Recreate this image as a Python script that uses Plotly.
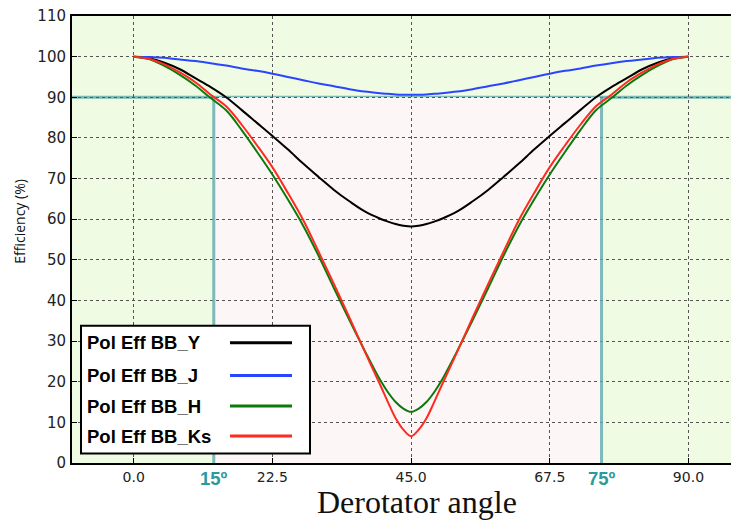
import plotly.graph_objects as go

# ---- data ----
angles = [0, 2.5, 5, 7.5, 10, 12.5, 15, 17.5, 20, 22.5, 25, 27.5, 30, 32.5, 35, 37.5, 40, 41.25, 42.5, 43.75,
          45, 46.25, 47.5, 48.75, 50, 52.5, 55, 57.5, 60, 62.5, 65, 67.5, 70, 72.5, 75, 77.5, 80, 82.5, 85, 87.5, 90]

eff_Y = [100, 99.6, 98.5, 96.9, 94.7, 92.5, 90.0, 86.9, 83.7, 80.5, 77.2, 73.7, 70.4, 67.2, 64.4, 61.9, 60.1, 59.4, 58.8, 58.4,
         58.2, 58.4, 58.8, 59.4, 60.1, 61.9, 64.4, 67.2, 70.4, 73.7, 77.2, 80.5, 83.7, 86.9, 90.0, 92.5, 94.7, 96.9, 98.5, 99.6, 100]
eff_J = [100, 99.9, 99.7, 99.3, 98.9, 98.4, 97.8, 97.1, 96.5, 95.8, 95.0, 94.2, 93.4, 92.7, 92.0, 91.4, 91.0, 90.85, 90.7, 90.62,
         90.6, 90.62, 90.7, 90.85, 91.0, 91.4, 92.0, 92.7, 93.4, 94.2, 95.0, 95.8, 96.5, 97.1, 97.8, 98.4, 98.9, 99.3, 99.7, 99.9, 100]
eff_H = [100, 99.4, 97.7, 95.5, 92.9, 89.8, 86.8, 82.0, 76.6, 71.0, 64.9, 58.4, 51.0, 43.0, 35.2, 27.6, 20.4, 17.4, 15.0, 13.4,
         12.6, 13.4, 15.0, 17.4, 20.4, 27.6, 35.2, 43.0, 51.0, 58.4, 64.9, 71.0, 76.6, 82.0, 86.8, 89.8, 92.9, 95.5, 97.7, 99.4, 100]
eff_Ks = [100, 99.5, 98.1, 96.1, 93.7, 90.6, 87.8, 83.3, 78.2, 72.8, 66.5, 59.8, 52.0, 44.0, 35.8, 27.4, 19.2, 15.0, 11.0, 8.2,
          6.6, 8.2, 11.0, 15.0, 19.2, 27.4, 35.8, 44.0, 52.0, 59.8, 66.5, 72.8, 78.2, 83.3, 87.8, 90.6, 93.7, 96.1, 98.1, 99.5, 100]

series_names = ["Pol Eff BB_Y", "Pol Eff BB_J", "Pol Eff BB_H", "Pol Eff BB_Ks"]
series_values = [eff_Y, eff_J, eff_H, eff_Ks]
series_colors = ["#000000", "#2a45ff", "#0a7a0a", "#ff2a20"]

x_ticks = [0, 22.5, 45, 67.5, 90]
x_tick_labels = ["0.0", "22.5", "45.0", "67.5", "90.0"]
y_ticks = list(range(0, 111, 10))
marker_angles = [13.0, 75.9]
marker_labels = ["15º", "75º"]
threshold = 90

# ---- figure ----
fig = go.Figure()
for name, vals, col in zip(series_names, series_values, series_colors):
    fig.add_trace(go.Scatter(x=angles, y=vals, mode="lines", name=name,
                             line=dict(color=col, width=2, shape="spline", smoothing=1.0),
                             showlegend=False))

# page has an 8px body margin; figure drawn from (8,8)
OFF = 8
W, H = 739 - OFF, 522 - OFF
PL, PT, PB = 72, 16, 463.5  # plot area in page pixels
pw, ph = 739 - PL, PB - PT


def px(xp):
    return (xp - PL) / pw


def py(yp):
    return (PB - yp) / ph


teal = "rgba(95,170,172,0.8)"
shapes = [
    dict(type="rect", xref="x", yref="y", x0=marker_angles[0], x1=marker_angles[1], y0=0, y1=threshold,
         fillcolor="#fdf6f6", line=dict(width=0), layer="below"),
    dict(type="line", xref="paper", yref="y", x0=0, x1=1, y0=threshold, y1=threshold,
         line=dict(color=teal, width=3), layer="between"),
]
for a in marker_angles:
    shapes.append(dict(type="line", xref="x", yref="y", x0=a, x1=a, y0=0, y1=threshold,
                       line=dict(color=teal, width=3), layer="between"))

# manual legend (text left, line sample right)
shapes.append(dict(type="rect", xref="paper", yref="paper", x0=px(81), x1=px(310), y0=py(454), y1=py(326),
                   fillcolor="white", line=dict(color="black", width=2), layer="above"))
annotations = []
row_y = [343, 376, 406.5, 436.5]
for name, col, ry in zip(series_names, series_colors, row_y):
    shapes.append(dict(type="line", xref="paper", yref="paper", x0=px(230), x1=px(292), y0=py(ry), y1=py(ry),
                       line=dict(color=col, width=3), layer="above"))
    annotations.append(dict(text="<b>" + name + "</b>", xref="paper", yref="paper", x=px(85), y=py(ry),
                            xanchor="left", yanchor="middle", showarrow=False,
                            font=dict(family="Liberation Sans", size=18.5, color="black")))

for a, lab in zip(marker_angles, marker_labels):
    annotations.append(dict(text="<b>" + lab + "</b>", xref="x", yref="paper", x=a, y=py(479),
                            xanchor="center", yanchor="middle", showarrow=False,
                            font=dict(family="Liberation Sans", size=18.5, color="#2b9a9c")))

annotations.append(dict(text="Derotator angle", xref="paper", yref="paper", x=px(417), y=py(503),
                        xanchor="center", yanchor="middle", showarrow=False,
                        font=dict(family="Liberation Serif", size=32, color="#111")))
annotations.append(dict(text="Efficiency (%)", xref="paper", yref="paper", x=px(20), y=py(222),
                        xanchor="center", yanchor="middle", showarrow=False, textangle=-90,
                        font=dict(family="Open Sans", size=14, color="#111")))

fig.update_layout(
    width=W, height=H,
    margin=dict(l=PL - OFF, r=0, t=PT - OFF, b=H - (PB - OFF), pad=0),
    paper_bgcolor="white",
    plot_bgcolor="#effbe2",
    shapes=shapes,
    annotations=annotations,
    showlegend=False,
)
fig.update_xaxes(range=[-10, 98.2], tickvals=x_ticks, ticktext=x_tick_labels,
                 showgrid=True, gridcolor="#555", griddash="dot", gridwidth=1,
                 showline=True, linecolor="black", linewidth=2, mirror=True,
                 ticks="inside", ticklen=5, tickcolor="black", ticklabeloverflow="allow",
                 tickfont=dict(family="DejaVu Sans", size=14, color="#222"),
                 zeroline=False)
fig.update_yaxes(range=[0, 110], tickvals=y_ticks,
                 showgrid=True, gridcolor="#555", griddash="dot", gridwidth=1,
                 showline=True, linecolor="black", linewidth=2,
                 ticks="inside", ticklen=5, tickcolor="black", ticklabelstandoff=1,
                 ticklabeloverflow="allow",
                 tickfont=dict(family="DejaVu Sans", size=15, color="#222"),
                 zeroline=False)

fig.write_html("out.html")
